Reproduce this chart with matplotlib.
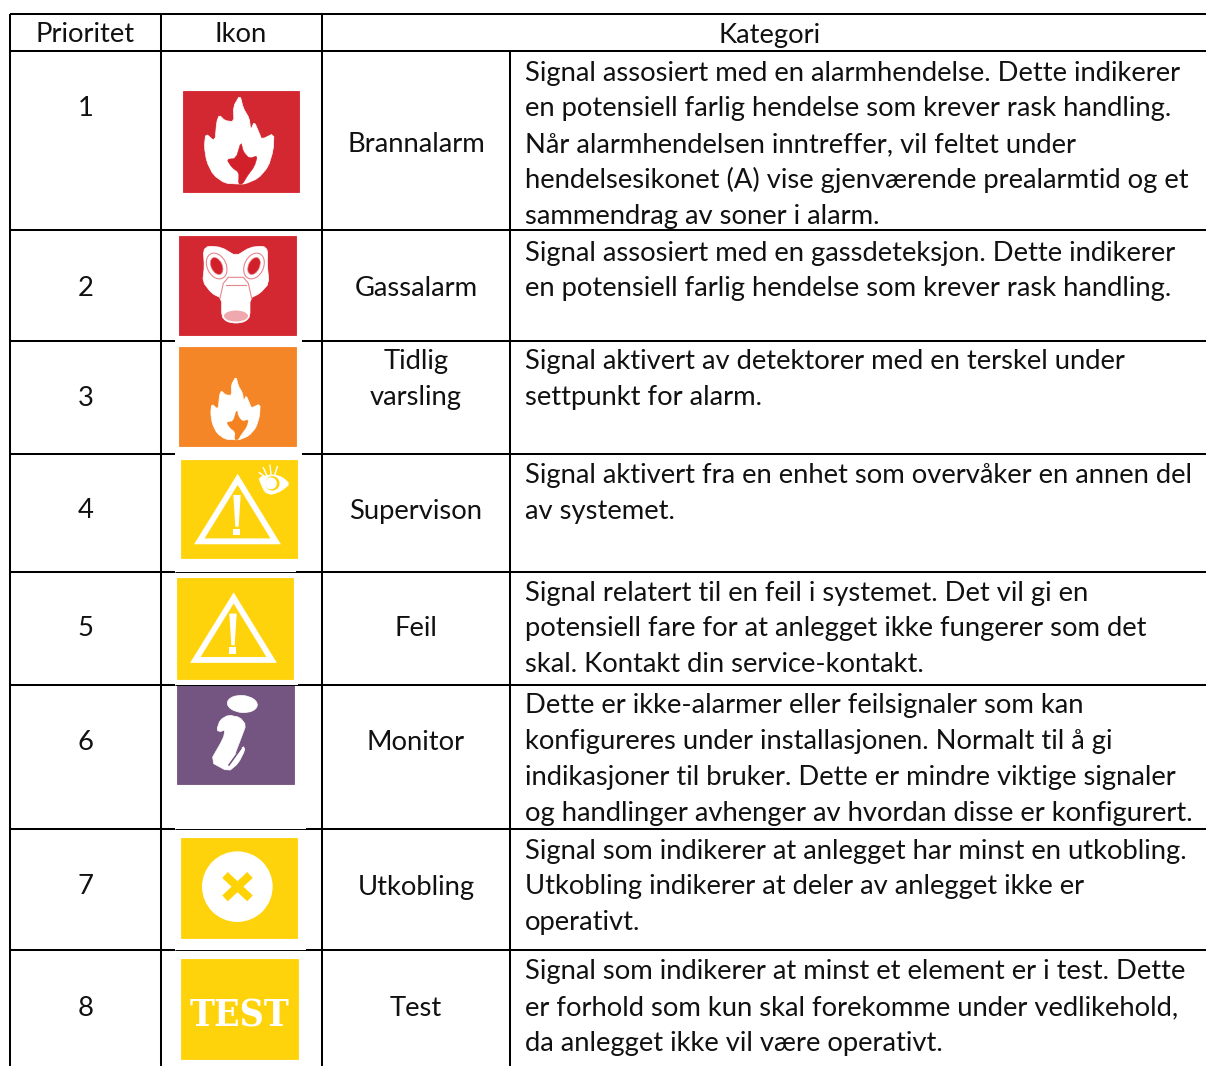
import numpy as np
import matplotlib
matplotlib.use('Agg')
import matplotlib.pyplot as plt
from matplotlib.patches import Rectangle, Polygon, Ellipse, Circle

plt.rcParams['font.family'] = ['Lato', 'DejaVu Sans']

headers = ['Prioritet', 'Ikon', 'Kategori']
priorities = ['1', '2', '3', '4', '5', '6', '7', '8']
categories = [['Brannalarm'], ['Gassalarm'], ['Tidlig', 'varsling'], ['Supervison'],
              ['Feil'], ['Monitor'], ['Utkobling'], ['Test']]
descriptions = [
    ['Signal assosiert med en alarmhendelse. Dette indikerer',
     'en potensiell farlig hendelse som krever rask handling.',
     'Når alarmhendelsen inntreffer, vil feltet under',
     'hendelsesikonet (A) vise gjenværende prealarmtid og et',
     'sammendrag av soner i alarm.'],
    ['Signal assosiert med en gassdeteksjon. Dette indikerer',
     'en potensiell farlig hendelse som krever rask handling.'],
    ['Signal aktivert av detektorer med en terskel under',
     'settpunkt for alarm.'],
    ['Signal aktivert fra en enhet som overvåker en annen del',
     'av systemet.'],
    ['Signal relatert til en feil i systemet. Det vil gi en',
     'potensiell fare for at anlegget ikke fungerer som det',
     'skal. Kontakt din service-kontakt.'],
    ['Dette er ikke-alarmer eller feilsignaler som kan',
     'konfigureres under installasjonen. Normalt til å gi',
     'indikasjoner til bruker. Dette er mindre viktige signaler',
     'og handlinger avhenger av hvordan disse er konfigurert.'],
    ['Signal som indikerer at anlegget har minst en utkobling.',
     'Utkobling indikerer at deler av anlegget ikke er',
     'operativt.'],
    ['Signal som indikerer at minst et element er i test. Dette',
     'er forhold som kun skal forekomme under vedlikehold,',
     'da anlegget ikke vil være operativt.'],
]

# table layout in pixels
row_lines = [14, 51, 230, 341, 454, 572, 685, 829, 950]
line_gaps = [None, None, None, (175, 302), (175, 302), (175, 296), (175, 298), (175, 306), (175, 306)]
thin_gap = [False, False, False, False, False, True, True, True, True]
col_lines = [10, 161, 322]
prio_y = [106, 287, 396, 509, 627, 740, 885, 1006]
cat_y = [142, 287, 360, 509, 627, 740, 885, 1006]
desc_y = [71, 251, 360, 474, 591, 704, 849, 970]
line_h = 35.8
icon_boxes = [(183, 91, 299, 192), (179, 236, 296, 335), (179, 347, 296, 446), (181, 460, 297, 558),
              (177, 578, 293, 679), (177, 685, 293.5, 784), (181, 838, 297, 938), (181, 959, 298, 1059)]
RED, ORANGE, YELLOW, PURPLE = '#D2202A', '#F58220', '#FFD204', '#6F4E7C'
icon_colors = [RED, RED, ORANGE, YELLOW, YELLOW, PURPLE, YELLOW, YELLOW]

# glyph outlines, traced in crop coordinates
flame_outer = [(240, 135), (250, 175), (268, 205), (272, 240), (283, 215), (298, 250), (305, 268), (342, 250),
               (340, 300), (325, 350), (295, 385), (255, 402), (235, 402), (195, 400), (160, 375), (140, 335),
               (133, 290), (137, 250), (165, 275), (170, 215), (178, 195), (195, 212), (222, 215), (220, 170)]
flame_inner = [(243, 275), (250, 305), (268, 325), (293, 317), (283, 350), (262, 378), (248, 402), (235, 402),
               (237, 368), (215, 352), (200, 328), (228, 325)]
mask_outer = [(130, 600), (145, 588), (185, 592), (228, 618), (270, 592), (310, 588), (323, 600), (322, 645),
              (327, 700), (300, 730), (270, 745), (270, 800), (255, 815), (228, 820), (200, 815), (185, 800),
              (185, 745), (155, 730), (128, 695), (133, 650)]
info_body = [(170, 150), (180, 120), (205, 105), (240, 112), (258, 135), (245, 170), (222, 230), (250, 198),
             (255, 210), (235, 250), (205, 275), (150, 245), (190, 175), (195, 150), (180, 155)]
eye_shape = [(296, 412), (340, 403), (368, 412), (389, 432), (365, 452), (335, 464), (315, 457), (303, 432)]
lashes = [((298, 398), (312, 408)), ((310, 383), (320, 405)), ((330, 376), (333, 402)), ((352, 380), (345, 402))]


def crop(pts, x0, y0):
    return np.array(pts, dtype=float) / 3 + [x0, y0]


def fit(pts, old_c, new_c, s):
    return (np.array(pts) - old_c) * s + new_c


def soften(pts, keep=0.8):
    # one corner cutting pass, the reference icons are blurry bitmaps
    pts = np.array(pts)
    nxt = np.roll(pts, -1, axis=0)
    a = keep * pts + (1 - keep) * nxt
    b = (1 - keep) * pts + keep * nxt
    return np.column_stack([a, b]).reshape(-1, 2)


fig = plt.figure(figsize=(12.06, 10.66), dpi=100)
ax = fig.add_axes([0, 0, 1, 1])
ax.set_xlim(0, 1206)
ax.set_ylim(1066, 0)
ax.axis('off')

lw = 1.45
for y, gap, thin in zip(row_lines, line_gaps, thin_gap):
    if gap is None:
        ax.plot([10, 1206], [y, y], color='black', lw=lw, solid_capstyle='butt')
    else:
        ax.plot([10, gap[0]], [y, y], color='black', lw=lw, solid_capstyle='butt')
        ax.plot([gap[1], 1206], [y, y], color='black', lw=lw, solid_capstyle='butt')
        if thin:
            ax.plot(gap, [y, y], color='black', lw=0.7, solid_capstyle='butt')
for x in col_lines:
    ax.plot([x, x], [14, 1066], color='black', lw=lw, solid_capstyle='butt')
ax.plot([510, 510], [51, 1066], color='black', lw=lw, solid_capstyle='butt')

# icons
for (x0, y0, x1, y1), c in zip(icon_boxes, icon_colors):
    ax.add_patch(Rectangle((x0, y0), x1 - x0, y1 - y0, fc=c, ec=c, lw=0.6, alpha=0.97))

white = dict(fc='white', ec='white', lw=0.5, joinstyle='round')

# 1 fire
outer1 = soften(crop(flame_outer, 160, 50))
inner1 = soften(crop(flame_inner, 160, 50))
ax.add_patch(Polygon(outer1, **white))
ax.add_patch(Polygon(inner1, fc=RED, ec=RED, lw=0.3))

# 2 gas mask
ax.add_patch(Polygon(soften(crop(mask_outer, 160, 50)), **white))
for ex, ang in [(170, -25), (282, 25)]:
    cx, cy = crop([(ex, 648)], 160, 50)[0]
    ax.add_patch(Ellipse((cx, cy), 19, 27, angle=ang, fc='white', ec='#E8868C', lw=0.8))
    ax.add_patch(Ellipse((cx, cy), 11, 18, angle=ang, fc=RED, ec='#E8868C', lw=0.5))
fx, fy = crop([(228, 798)], 160, 50)[0]
ax.add_patch(Ellipse((fx, fy), 24, 11, fc='#EFA9AE', ec='none'))
neck = crop([(180, 745), (190, 700), (205, 682), (250, 682), (265, 700), (275, 745)], 160, 50)
ax.plot(neck[:, 0], neck[:, 1], color='#E8868C', lw=0.8)
bar = crop([(197, 706), (258, 706)], 160, 50)
ax.plot(bar[:, 0], bar[:, 1], color='#E8868C', lw=0.8)

# 3 early warning fire, same flame but smaller
c1 = np.array([239, 140])
c3 = np.array([235.3, 408.5])
ax.add_patch(Polygon(fit(outer1, c1, c3, 0.71), **white))
ax.add_patch(Polygon(fit(inner1, c1, c3, 0.71), fc=ORANGE, ec=ORANGE, lw=0.3))

# 4 and 5 warning triangles
for dx, dy in [(0, 0), (-4, 118.6)]:
    tri = crop([(233, 418), (118, 604), (347, 604)], 160 + dx, 340 + dy)
    ax.add_patch(Polygon(tri, fc='none', ec='white', lw=4.2, joinstyle='miter'))
    stem = crop([(220, 465), (242, 465), (236, 560), (226, 560)], 160 + dx, 340 + dy)
    ax.add_patch(Polygon(stem, fc='white', ec='none'))
    dot = crop([(220, 566), (241, 566), (241, 585), (220, 585)], 160 + dx, 340 + dy)
    ax.add_patch(Polygon(dot, fc='white', ec='none'))

ax.add_patch(Polygon(soften(crop(eye_shape, 160, 340)), **white))
ex, ey = crop([(337, 430)], 160, 340)[0]
ax.add_patch(Circle((ex, ey), 7.2, fc=YELLOW, ec='none'))
ax.add_patch(Circle((ex - 1.5, ey), 6, fc='white', ec='none'))
for a, b in lashes:
    seg = crop([a, b], 160, 340)
    ax.plot(seg[:, 0], seg[:, 1], color='white', lw=1.0)

# 6 info
dot_c = crop([(247, 72)], 160, 680)[0]
ax.add_patch(Ellipse(dot_c, 30, 17, angle=5, **white))
ax.add_patch(Polygon(soften(crop(info_body, 160, 680)), **white))
slit = crop([(207, 255), (243, 205)], 160, 680)
ax.plot(slit[:, 0], slit[:, 1], color=PURPLE, lw=1.1)

# 7 disconnected
cx, cy = crop([(232, 620)], 160, 680)[0]
ax.add_patch(Circle((cx, cy), 35.3, fc='white', ec='none'))
for a, b in [((195, 585), (270, 655)), ((270, 585), (195, 655))]:
    seg = crop([a, b], 160, 680)
    ax.plot(seg[:, 0], seg[:, 1], color=YELLOW, lw=5.8, solid_capstyle='butt')

# 8 test
ax.text(239.5, 1026.5, 'TEST', fontsize=26.8, color='white', ha='center', va='baseline',
        family=['DejaVu Serif'], weight='bold', stretch='condensed')

# text
fs = 19.7
color = '#111111'
base = 9.5
ax.text(85.5, 33 + base, headers[0], ha='center', va='baseline', fontsize=fs, color=color)
ax.text(241, 33 + base, headers[1], ha='center', va='baseline', fontsize=fs, color=color)
ax.text(770, 33 + base, headers[2], ha='center', va='baseline', fontsize=fs, color=color)

for p, y in zip(priorities, prio_y):
    ax.text(85.5, y + base, p, ha='center', va='baseline', fontsize=fs, color=color)
for cat, y in zip(categories, cat_y):
    for i, t in enumerate(cat):
        ax.text(416, y + i * line_h + base, t, ha='center', va='baseline', fontsize=fs, color=color)
for lines, y in zip(descriptions, desc_y):
    for i, t in enumerate(lines):
        ax.text(525, y + i * line_h + base, t, ha='left', va='baseline', fontsize=fs, color=color)

fig.savefig('out.png', dpi=100)
